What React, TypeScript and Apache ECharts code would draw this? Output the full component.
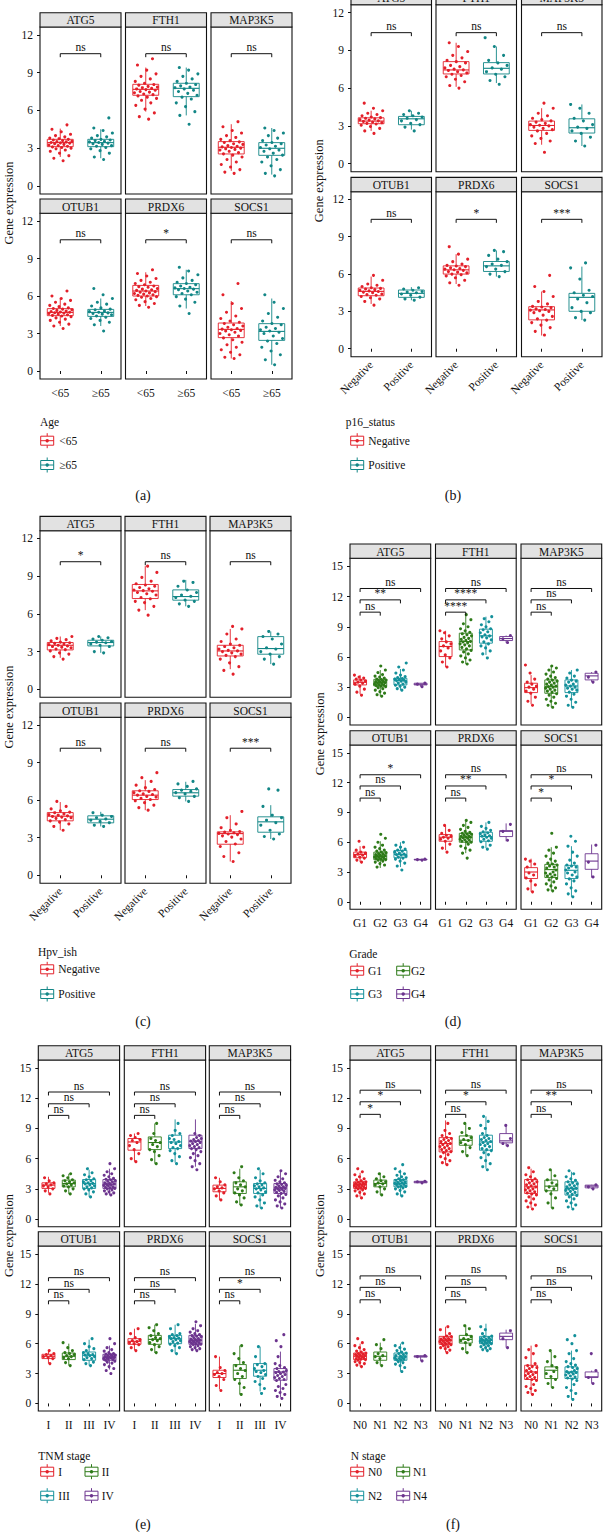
import React, { useEffect, useRef } from "react";
import * as echarts from "echarts";

const GENES = ["ATG5", "FTH1", "MAP3K5", "OTUB1", "PRDX6", "SOCS1"];

// ---------- (a) Age ----------
const A_GROUPS = ["<65", "≥65"];
const A_BOXES = [
  [[2.3, 3.12, 3.44, 3.7, 4.55], [2.2, 3.12, 3.44, 3.7, 4.5]],
  [[5.9, 7.2, 7.67, 8.07, 9.4], [5.6, 7.09, 7.75, 8.15, 9.4]],
  [[1.2, 2.54, 3.07, 3.52, 4.9], [0.9, 2.43, 2.99, 3.44, 4.6]],
  [[3.6, 4.43, 4.69, 4.99, 5.85], [3.6, 4.37, 4.69, 4.93, 5.8]],
  [[5.2, 6.0, 6.4, 6.85, 7.9], [5.0, 6.1, 6.59, 6.99, 8.1]],
  [[1.0, 2.67, 3.33, 3.84, 5.6], [0.5, 2.45, 3.17, 3.79, 5.8]],
];
const A_POINTS = [
  ["2.0 2.2 2.4 2.6 2.75 2.85 2.95 3.0 3.05 3.1 3.15 3.2 3.25 3.3 3.35 3.4 3.42 3.45 3.5 3.52 3.55 3.6 3.65 3.7 3.75 3.8 3.9 4.0 4.1 4.3 4.5 4.85",
   "2.1 2.3 2.6 2.8 2.95 3.05 3.15 3.2 3.3 3.35 3.4 3.45 3.5 3.55 3.6 3.65 3.7 3.8 3.9 4.0 4.2 4.4 4.6 5.4"],
  ["5.3 5.5 5.8 6.1 6.4 6.6 6.8 6.95 7.05 7.15 7.25 7.3 7.4 7.45 7.5 7.6 7.65 7.7 7.75 7.8 7.85 7.9 8.0 8.05 8.15 8.3 8.5 8.7 8.9 9.2 9.6 10.1",
   "4.9 5.6 5.9 6.3 6.6 6.9 7.05 7.2 7.35 7.5 7.6 7.7 7.8 7.85 7.95 8.05 8.15 8.3 8.5 8.7 8.9 9.2 9.4"],
  ["1.0 1.1 1.3 1.5 1.7 1.9 2.1 2.3 2.45 2.55 2.65 2.75 2.85 2.9 2.95 3.0 3.05 3.1 3.15 3.2 3.3 3.35 3.45 3.5 3.6 3.7 3.85 4.0 4.2 4.4 4.7 5.1",
   "0.8 1.0 1.3 1.6 1.9 2.1 2.3 2.45 2.6 2.75 2.85 2.95 3.05 3.15 3.25 3.35 3.45 3.6 3.8 4.0 4.2 4.4 4.6"],
  ["3.4 3.6 3.75 3.9 4.05 4.15 4.25 4.35 4.4 4.45 4.5 4.55 4.6 4.62 4.66 4.7 4.72 4.76 4.8 4.85 4.9 4.95 5.0 5.05 5.15 5.25 5.35 5.5 5.65 5.8 6.0 6.4",
   "3.2 3.7 3.9 4.05 4.2 4.3 4.4 4.5 4.55 4.6 4.65 4.7 4.75 4.8 4.9 4.95 5.05 5.2 5.35 5.5 5.8 6.1 6.6"],
  ["5.1 5.25 5.4 5.55 5.7 5.8 5.9 5.95 6.0 6.05 6.1 6.15 6.2 6.25 6.3 6.35 6.4 6.45 6.5 6.55 6.6 6.7 6.75 6.8 6.9 7.0 7.1 7.25 7.4 7.6 7.8 8.1",
   "4.6 5.2 5.5 5.75 5.95 6.1 6.2 6.3 6.4 6.5 6.55 6.6 6.65 6.7 6.8 6.9 7.0 7.1 7.25 7.45 7.7 8.0 8.3"],
  ["1.0 1.1 1.3 1.5 1.7 1.9 2.1 2.3 2.5 2.65 2.8 2.9 3.0 3.1 3.2 3.25 3.3 3.35 3.4 3.5 3.6 3.7 3.8 3.9 4.0 4.2 4.4 4.7 5.0 5.4 6.1 7.0",
   "0.5 0.9 1.3 1.6 1.9 2.2 2.4 2.6 2.8 3.0 3.1 3.2 3.3 3.4 3.5 3.7 3.8 4.0 4.3 4.6 5.0 5.5 6.1"],
];
const A_SIG = [["ns"], ["ns"], ["ns"], ["ns"], ["*"], ["ns"]];
const A_SIG_Y = [10.5];

// ---------- (b) p16_status ----------
const B_GROUPS = ["Negative", "Positive"];
const B_BOXES = [
  [[2.6, 3.17, 3.38, 3.64, 4.2], [2.7, 3.09, 3.56, 3.75, 4.2]],
  [[6.1, 7.12, 7.44, 8.1, 9.6], [6.4, 7.12, 7.57, 8.02, 9.3]],
  [[1.5, 2.64, 3.03, 3.38, 4.4], [1.4, 2.43, 2.85, 3.56, 4.7]],
  [[3.6, 4.26, 4.61, 4.88, 5.8], [3.9, 4.13, 4.45, 4.72, 4.95]],
  [[5.2, 6.0, 6.34, 6.66, 7.6], [5.8, 6.21, 6.66, 7.01, 7.9]],
  [[1.06, 2.32, 3.12, 3.38, 4.6], [2.3, 3.01, 4.13, 4.45, 6.6]],
];
const B_POINTS = [
  ["2.4 2.6 2.8 2.95 3.05 3.15 3.2 3.25 3.3 3.35 3.4 3.45 3.5 3.55 3.6 3.65 3.7 3.8 3.9 4.0 4.2 4.4 4.8", "2.6 2.9 3.1 3.2 3.4 3.5 3.6 3.7 3.8 3.9 4.0 4.2"],
  ["6.0 6.2 6.5 6.7 6.9 7.0 7.1 7.2 7.3 7.4 7.45 7.5 7.6 7.7 7.8 8.0 8.1 8.2 8.4 8.6 8.9 9.3 9.6", "6.3 6.6 6.9 7.1 7.3 7.5 7.6 7.8 8.0 8.2 8.6 9.3 10.0"],
  ["0.9 1.6 1.8 2.0 2.2 2.4 2.6 2.7 2.8 2.9 3.0 3.05 3.1 3.2 3.3 3.4 3.5 3.6 3.8 4.0 4.4 4.8", "1.4 1.8 2.1 2.4 2.6 2.8 2.9 3.1 3.4 3.6 4.0 4.4 4.7"],
  ["3.5 3.8 4.0 4.1 4.2 4.3 4.35 4.4 4.5 4.55 4.6 4.65 4.7 4.75 4.8 4.85 4.9 5.0 5.1 5.2 5.5 5.9", "3.9 4.0 4.15 4.3 4.4 4.5 4.55 4.6 4.7 4.8 4.9"],
  ["5.1 5.3 5.5 5.7 5.85 5.95 6.0 6.1 6.15 6.2 6.3 6.35 6.4 6.45 6.5 6.6 6.65 6.7 6.8 7.0 7.2 7.6 8.2", "5.8 6.0 6.2 6.4 6.6 6.7 6.8 7.0 7.2 7.5 7.8 7.9"],
  ["1.1 1.4 1.7 1.9 2.1 2.3 2.4 2.6 2.7 2.9 3.0 3.05 3.1 3.15 3.2 3.3 3.35 3.4 3.6 3.8 4.2 4.6 5.0 5.9", "2.3 2.5 2.9 3.0 3.3 3.7 4.0 4.2 4.3 4.5 4.7 5.6 6.5 6.9"],
];
const B_SIG = [["ns"], ["ns"], ["ns"], ["ns"], ["*"], ["***"]];
const B_SIG_Y = [10.4];

// ---------- (c) Hpv_ish ----------
const C_GROUPS = ["Negative", "Positive"];
const C_BOXES = [
  [[2.5, 3.13, 3.5, 3.72, 4.2], [2.9, 3.45, 3.72, 3.9, 4.2]],
  [[6.3, 7.22, 7.83, 8.34, 9.8], [6.6, 7.09, 7.38, 7.91, 8.7]],
  [[1.6, 2.65, 3.05, 3.5, 4.8], [2.0, 2.79, 3.24, 4.19, 4.6]],
  [[3.6, 4.35, 4.72, 5.01, 5.85], [3.9, 4.19, 4.48, 4.75, 5.07]],
  [[5.2, 6.05, 6.4, 6.75, 7.6], [5.9, 6.32, 6.59, 6.85, 7.47]],
  [[1.1, 2.48, 3.33, 3.47, 4.8], [2.9, 3.44, 4.27, 4.67, 5.6]],
];
const C_POINTS = [
  ["2.4 2.6 2.8 2.9 3.05 3.15 3.2 3.3 3.35 3.4 3.45 3.5 3.55 3.6 3.65 3.7 3.75 3.85 3.95 4.05 4.2", "2.9 3.0 3.4 3.5 3.6 3.7 3.75 3.8 3.9 4.0 4.1 4.2"],
  ["5.9 6.3 6.6 6.9 7.0 7.2 7.3 7.5 7.6 7.7 7.8 7.85 7.9 8.0 8.1 8.2 8.3 8.4 8.6 8.9 9.3 9.8", "6.6 6.8 7.0 7.1 7.3 7.4 7.5 7.7 7.9 8.2 8.5 8.6"],
  ["1.2 1.5 1.8 2.1 2.4 2.6 2.7 2.8 2.9 3.0 3.05 3.1 3.2 3.3 3.4 3.5 3.6 3.8 4.0 4.4 4.8 5.0", "2.0 2.4 2.6 2.8 3.0 3.2 3.3 3.6 4.0 4.2 4.4 4.6"],
  ["3.6 3.9 4.1 4.25 4.35 4.45 4.55 4.6 4.65 4.7 4.75 4.8 4.85 4.9 5.0 5.05 5.15 5.3 5.5 5.9", "3.9 4.0 4.2 4.3 4.4 4.5 4.6 4.7 4.8 5.0"],
  ["5.2 5.4 5.6 5.8 5.95 6.05 6.15 6.25 6.3 6.4 6.45 6.5 6.6 6.7 6.75 6.85 7.0 7.2 7.5 7.8 8.2", "5.9 6.2 6.3 6.5 6.6 6.7 6.8 6.9 7.1 7.3 7.5"],
  ["1.1 1.5 1.8 2.1 2.3 2.5 2.7 2.9 3.05 3.15 3.25 3.3 3.35 3.4 3.45 3.5 3.6 3.8 4.1 4.6 5.1", "2.9 3.1 3.3 3.6 4.0 4.2 4.4 4.6 4.8 5.5 6.8 6.9"],
];
const C_SIG = [["*"], ["ns"], ["ns"], ["ns"], ["ns"], ["***"]];
const C_SIG_Y = [10.15];

// ---------- (d) Grade ----------
const D_GROUPS = ["G1", "G2", "G3", "G4"];
const D_LEGEND = ["G1", "G2", "G3", "G4"];
const D_BOXES = [
  [[2.3, 3.22, 3.48, 3.72, 4.2], [2.1, 3.12, 3.48, 3.78, 4.7], [2.7, 3.22, 3.65, 3.88, 4.8], [3.05, 3.22, 3.29, 3.39, 3.4]],
  [[5.0, 6.04, 7.04, 7.53, 8.6], [5.3, 6.7, 7.53, 8.36, 10.2], [6.2, 7.37, 8.1, 8.76, 10.0], [7.4, 7.63, 7.83, 8.03, 8.13]],
  [[1.3, 2.46, 2.95, 3.39, 4.2], [1.0, 2.39, 3.05, 3.72, 5.1], [1.0, 2.46, 3.12, 3.72, 4.7], [3.5, 3.72, 4.12, 4.38, 4.5]],
  [[4.0, 4.44, 4.77, 5.0, 5.6], [3.4, 4.24, 4.57, 5.0, 6.1], [3.5, 4.44, 4.77, 5.17, 6.0], [4.2, 4.22, 4.25, 4.28, 4.3]],
  [[5.2, 6.1, 6.5, 6.77, 7.67], [4.9, 6.0, 6.5, 6.9, 8.1], [5.4, 6.1, 6.57, 7.0, 8.0], [6.1, 6.57, 7.1, 7.17, 7.9]],
  [[1.0, 2.34, 3.0, 3.44, 4.34], [1.1, 2.44, 3.24, 3.77, 5.5], [0.5, 2.34, 3.17, 3.67, 5.6], [2.44, 3.27, 4.1, 4.84, 5.77]],
];
const D_POINTS = [
  ["2.2 2.5 2.8 3.1 3.3 3.4 3.5 3.6 3.7 3.8 3.9 4.0 4.2",
   "2.1 2.25 2.4 2.55 2.7 2.85 2.95 3.05 3.1 3.15 3.2 3.25 3.3 3.35 3.4 3.45 3.5 3.55 3.6 3.65 3.7 3.75 3.8 3.9 4.0 4.1 4.25 4.45 4.7 5.1",
   "2.7 2.85 3.0 3.1 3.2 3.3 3.4 3.5 3.6 3.65 3.7 3.75 3.8 3.85 3.95 4.05 4.2 4.4 4.7 5.0 5.4", "3.05 3.3 3.4"],
  ["5.0 5.5 5.9 6.2 6.6 6.9 7.1 7.3 7.5 7.8 8.1 8.4 8.6",
   "5.3 5.5 5.7 5.9 6.1 6.3 6.5 6.65 6.8 6.95 7.1 7.2 7.3 7.4 7.5 7.55 7.65 7.75 7.85 7.95 8.1 8.2 8.3 8.45 8.6 8.8 9.0 9.3 9.7 10.2",
   "5.9 6.3 6.6 6.9 7.1 7.3 7.5 7.7 7.9 8.0 8.1 8.2 8.4 8.5 8.7 8.8 9.0 9.2 9.5 9.8 10.0", "7.43 7.8 8.13"],
  ["1.2 1.6 2.0 2.4 2.6 2.8 3.0 3.1 3.3 3.5 3.8 4.4 5.2",
   "1.0 1.2 1.4 1.6 1.8 2.0 2.2 2.35 2.5 2.6 2.7 2.8 2.9 3.0 3.05 3.1 3.2 3.3 3.4 3.5 3.6 3.7 3.8 3.95 4.1 4.3 4.5 4.7 4.9 5.1",
   "1.0 1.2 1.5 1.8 2.1 2.3 2.5 2.7 2.8 2.9 3.0 3.1 3.2 3.3 3.5 3.6 3.7 3.9 4.1 4.4 4.7", "3.5 4.0 4.5"],
  ["4.0 4.2 4.4 4.5 4.6 4.7 4.8 4.9 5.0 5.2 5.5 6.1",
   "3.3 3.5 3.7 3.85 4.0 4.1 4.2 4.25 4.3 4.35 4.4 4.45 4.5 4.55 4.6 4.65 4.7 4.75 4.8 4.85 4.95 5.0 5.1 5.2 5.35 5.5 5.7 6.0 6.4 6.8",
   "3.2 3.6 3.9 4.1 4.3 4.4 4.5 4.6 4.7 4.75 4.8 4.9 5.0 5.1 5.2 5.3 5.5 5.7 6.0", "4.2 4.25 4.3"],
  ["5.0 5.4 5.8 6.1 6.3 6.4 6.5 6.6 6.7 6.9 7.2 7.7",
   "4.4 4.9 5.2 5.4 5.6 5.8 5.9 6.0 6.05 6.1 6.2 6.25 6.3 6.4 6.45 6.5 6.55 6.6 6.65 6.7 6.8 6.85 6.9 7.0 7.1 7.3 7.5 7.7 8.0 8.2",
   "5.3 5.5 5.7 5.9 6.05 6.15 6.3 6.4 6.5 6.6 6.65 6.75 6.85 6.95 7.05 7.2 7.4 7.6 8.0", "6.2 7.1 7.8"],
  ["1.0 1.3 1.7 2.1 2.4 2.7 2.9 3.1 3.3 3.5 3.8 4.1 4.3",
   "1.1 1.2 1.4 1.6 1.8 2.0 2.2 2.35 2.5 2.6 2.7 2.8 2.9 3.0 3.1 3.2 3.3 3.4 3.5 3.6 3.7 3.8 3.9 4.1 4.3 4.6 4.9 5.2 5.5 6.9",
   "0.5 0.8 1.1 1.4 1.8 2.1 2.3 2.5 2.7 2.9 3.0 3.1 3.2 3.3 3.4 3.5 3.6 3.7 3.9 4.2 4.6 5.0 5.6 6.1 6.6", "2.5 4.0 5.7"],
];
const D_SIG = [["ns", "**", "ns"], ["****", "****", "ns"], ["ns", "ns", "ns"], ["ns", "ns", "*"], ["ns", "**", "ns"], ["*", "*", "ns"]];
const D_SIG_Y = [10.45, 11.67, 12.8];

// ---------- (e) TNM stage ----------
const E_GROUPS = ["I", "II", "III", "IV"];
const E_LEGEND = ["I", "II", "III", "IV"];
const E_BOXES = [
  [[2.6, 3.04, 3.37, 3.6, 4.2], [2.5, 3.2, 3.53, 3.87, 4.5], [2.2, 3.04, 3.53, 3.93, 4.9], [2.4, 3.04, 3.47, 3.93, 5.0]],
  [[5.7, 6.84, 7.66, 8.0, 8.5], [5.5, 6.9, 7.6, 8.16, 9.5], [5.6, 7.0, 7.66, 8.33, 9.9], [5.2, 7.0, 7.73, 8.33, 9.9]],
  [[1.9, 2.71, 3.04, 3.37, 4.1], [1.4, 2.54, 3.2, 3.7, 5.0], [1.1, 2.54, 3.04, 3.53, 4.9], [1.1, 2.54, 3.1, 3.53, 4.7]],
  [[4.0, 4.5, 4.73, 4.93, 5.3], [3.8, 4.4, 4.73, 5.06, 6.0], [3.8, 4.33, 4.83, 5.16, 6.4], [3.4, 4.33, 4.6, 4.93, 5.8]],
  [[5.33, 5.93, 6.23, 6.5, 7.5], [5.06, 5.93, 6.43, 6.83, 7.9], [5.0, 6.0, 6.5, 6.83, 7.9], [5.33, 5.93, 6.33, 6.83, 8.0]],
  [[1.4, 2.6, 3.0, 3.33, 4.7], [0.9, 2.5, 3.33, 3.9, 5.8], [1.2, 2.73, 3.33, 4.0, 5.7], [0.6, 2.33, 3.16, 3.5, 5.2]],
];
const E_POINTS = [
  ["2.5 2.8 3.0 3.2 3.3 3.4 3.5 3.6 3.8 4.1", "2.5 2.8 3.0 3.2 3.3 3.4 3.5 3.6 3.7 3.8 3.9 4.1 4.3 4.5",
   "2.2 2.5 2.7 2.9 3.0 3.1 3.2 3.3 3.4 3.5 3.55 3.6 3.7 3.8 3.9 4.0 4.2 4.4 4.6 5.0",
   "2.4 2.5 2.6 2.7 2.8 2.9 3.0 3.05 3.1 3.15 3.2 3.3 3.35 3.4 3.45 3.5 3.55 3.6 3.7 3.75 3.8 3.9 3.95 4.05 4.2 4.35 4.5 4.7 5.0 5.5"],
  ["5.7 6.0 6.5 6.9 7.3 7.6 7.8 7.9 8.1 8.3 8.5", "5.5 5.9 6.3 6.7 6.9 7.2 7.4 7.6 7.8 8.0 8.2 8.5 8.9 9.5",
   "5.5 5.8 6.2 6.5 6.8 7.0 7.1 7.3 7.5 7.6 7.7 7.9 8.0 8.2 8.3 8.5 8.8 9.1 9.5 9.9",
   "4.9 5.2 5.5 5.8 6.1 6.3 6.5 6.7 6.9 7.0 7.1 7.2 7.3 7.4 7.5 7.6 7.7 7.75 7.8 7.9 8.0 8.1 8.2 8.3 8.5 8.7 8.9 9.2 9.6 10.1"],
  ["1.9 2.3 2.6 2.8 3.0 3.1 3.2 3.4 3.7 4.1", "1.4 1.7 2.1 2.4 2.6 2.8 3.0 3.2 3.4 3.6 3.8 4.1 4.6 5.2",
   "1.1 1.3 1.6 1.9 2.2 2.4 2.6 2.7 2.9 3.0 3.1 3.2 3.3 3.4 3.5 3.6 3.8 4.1 4.5 5.0",
   "1.1 1.3 1.5 1.7 1.9 2.1 2.3 2.45 2.55 2.65 2.75 2.85 2.9 2.95 3.0 3.05 3.1 3.15 3.2 3.3 3.35 3.45 3.5 3.6 3.7 3.85 4.0 4.2 4.5 4.8"],
  ["4.0 4.3 4.5 4.6 4.7 4.8 4.9 5.0 5.3", "3.8 4.1 4.3 4.5 4.6 4.7 4.8 4.9 5.0 5.1 5.3 5.6 6.1",
   "3.8 4.0 4.15 4.3 4.4 4.5 4.6 4.7 4.8 4.85 4.9 5.0 5.1 5.2 5.3 5.5 5.7 6.0 6.5",
   "3.0 3.3 3.5 3.7 3.9 4.05 4.15 4.25 4.3 4.35 4.4 4.45 4.5 4.55 4.6 4.62 4.66 4.7 4.75 4.8 4.85 4.9 4.95 5.0 5.1 5.25 5.4 5.6 6.0 6.5"],
  ["5.3 5.6 5.9 6.0 6.1 6.2 6.3 6.4 6.6 7.0 7.5", "5.1 5.4 5.7 5.9 6.1 6.3 6.4 6.5 6.6 6.8 7.0 7.3 7.6 7.9",
   "5.0 5.3 5.6 5.8 5.95 6.05 6.2 6.3 6.4 6.5 6.55 6.6 6.7 6.8 6.9 7.0 7.2 7.5 7.9",
   "5.3 5.4 5.5 5.6 5.7 5.8 5.9 5.95 6.0 6.05 6.1 6.15 6.2 6.25 6.3 6.35 6.4 6.45 6.5 6.6 6.7 6.75 6.8 6.9 7.0 7.15 7.3 7.5 7.8 8.2"],
  ["1.3 1.8 2.4 2.7 2.9 3.0 3.1 3.3 3.6 4.7", "0.9 1.2 1.6 2.0 2.4 2.7 3.0 3.3 3.5 3.8 4.1 4.5 5.0 5.8",
   "1.0 1.2 1.5 1.9 2.2 2.5 2.7 2.9 3.1 3.2 3.3 3.4 3.5 3.7 3.9 4.0 4.3 4.7 5.2 5.7",
   "0.5 0.7 0.9 1.1 1.3 1.5 1.7 1.9 2.1 2.3 2.4 2.5 2.6 2.7 2.8 2.9 3.0 3.1 3.15 3.2 3.3 3.4 3.5 3.6 3.8 4.0 4.3 4.7 5.2 5.7 6.3 6.9"],
];
const E_SIG = [["ns", "ns", "ns"], ["ns", "ns", "ns"], ["ns", "ns", "ns"], ["ns", "ns", "ns"], ["ns", "ns", "ns"], ["ns", "*", "ns"]];
const E_SIG_Y = [10.3, 11.45, 12.62];

// ---------- (f) N stage ----------
const F_GROUPS = ["N0", "N1", "N2", "N3"];
const F_LEGEND = ["N0", "N1", "N2", "N4"];
const F_BOXES = [
  [[2.2, 3.04, 3.44, 3.7, 4.6], [2.4, 3.2, 3.53, 3.87, 4.6], [2.3, 3.2, 3.53, 3.93, 4.9], [3.6, 3.6, 3.68, 3.75, 3.75]],
  [[5.4, 6.67, 7.5, 8.09, 9.8], [6.34, 7.33, 7.83, 8.26, 9.5], [5.0, 6.84, 7.66, 8.33, 10.2], [7.24, 7.57, 7.77, 8.49, 9.42]],
  [[1.1, 2.54, 3.2, 3.93, 5.0], [1.1, 2.81, 3.27, 3.87, 4.9], [1.1, 2.38, 3.04, 3.7, 4.7], [3.0, 3.1, 3.27, 3.37, 3.4]],
  [[3.7, 4.4, 4.73, 5.06, 6.0], [3.83, 4.33, 4.73, 5.16, 6.1], [3.2, 4.33, 4.67, 5.06, 6.0], [4.27, 4.65, 4.73, 4.78, 4.8]],
  [[5.16, 5.93, 6.33, 6.73, 7.7], [5.06, 6.06, 6.43, 6.83, 7.8], [5.33, 6.0, 6.33, 6.73, 8.0], [5.6, 6.4, 6.73, 7.06, 7.4]],
  [[0.93, 2.4, 3.16, 3.83, 5.8], [1.6, 2.5, 3.33, 3.67, 5.2], [0.4, 2.5, 3.16, 3.67, 5.3], [2.0, 2.6, 2.67, 3.16, 3.3]],
];
const F_POINTS = [
  ["2.1 2.3 2.5 2.65 2.8 2.9 3.0 3.05 3.1 3.15 3.2 3.25 3.3 3.35 3.4 3.45 3.5 3.55 3.6 3.65 3.7 3.8 3.9 4.0 4.2 4.4 4.7 5.0",
   "2.4 2.7 3.0 3.2 3.4 3.5 3.6 3.7 3.8 4.0 4.2 4.5",
   "2.3 2.5 2.7 2.85 3.0 3.1 3.2 3.25 3.3 3.4 3.45 3.5 3.55 3.6 3.65 3.7 3.8 3.85 3.9 4.0 4.1 4.2 4.35 4.5 4.7 5.0 5.4", "3.6 3.7 3.75"],
  ["5.4 5.6 5.8 6.0 6.2 6.4 6.6 6.7 6.8 6.9 7.0 7.1 7.2 7.3 7.4 7.5 7.6 7.7 7.8 7.9 8.0 8.1 8.3 8.5 8.8 9.1 9.5 9.9",
   "6.3 6.7 7.1 7.4 7.6 7.8 7.9 8.1 8.3 8.6 9.0 9.5",
   "4.9 5.2 5.5 5.8 6.1 6.4 6.6 6.8 6.9 7.0 7.2 7.3 7.4 7.5 7.6 7.7 7.8 7.9 8.0 8.1 8.2 8.3 8.5 8.7 9.0 9.3 9.7 10.2", "7.3 7.5 8.0 9.3"],
  ["1.0 1.2 1.4 1.6 1.8 2.0 2.2 2.4 2.5 2.6 2.7 2.8 2.9 3.0 3.1 3.2 3.3 3.4 3.5 3.6 3.7 3.8 3.9 4.0 4.2 4.4 4.7 5.1",
   "1.1 1.6 2.1 2.5 2.8 3.0 3.2 3.4 3.6 3.9 4.3 4.9",
   "1.0 1.2 1.4 1.6 1.8 2.0 2.2 2.35 2.45 2.55 2.65 2.75 2.85 2.95 3.0 3.05 3.1 3.2 3.3 3.4 3.5 3.6 3.7 3.85 4.0 4.2 4.5 4.8", "3.0 3.2 3.4"],
  ["3.7 3.85 4.0 4.1 4.2 4.3 4.35 4.4 4.45 4.5 4.55 4.6 4.65 4.7 4.75 4.8 4.85 4.9 4.95 5.0 5.05 5.15 5.25 5.4 5.6 5.8 6.1 6.5",
   "3.8 4.1 4.3 4.5 4.7 4.8 5.0 5.2 5.5 5.9 6.4",
   "3.2 3.4 3.6 3.8 3.95 4.1 4.2 4.3 4.35 4.4 4.45 4.5 4.55 4.6 4.65 4.7 4.75 4.8 4.9 5.0 5.05 5.15 5.3 5.45 5.6 5.8 6.06", "4.27 4.7 4.8"],
  ["5.1 5.2 5.35 5.5 5.6 5.7 5.8 5.9 5.95 6.0 6.05 6.1 6.2 6.25 6.3 6.35 6.4 6.45 6.5 6.6 6.7 6.75 6.85 7.0 7.2 7.4 7.7 8.1",
   "5.1 5.5 5.9 6.1 6.3 6.4 6.5 6.7 6.9 7.2 7.5 7.8",
   "5.3 5.4 5.5 5.6 5.7 5.8 5.9 6.0 6.05 6.1 6.15 6.2 6.25 6.3 6.35 6.4 6.45 6.5 6.6 6.7 6.75 6.85 7.0 7.2 7.4 7.7 8.1", "5.6 6.5 7.3"],
  ["0.9 1.1 1.3 1.5 1.7 1.9 2.1 2.3 2.4 2.5 2.6 2.7 2.8 2.9 3.0 3.1 3.2 3.3 3.4 3.5 3.6 3.7 3.8 4.0 4.3 4.6 5.0 5.4 5.8",
   "1.6 2.0 2.4 2.7 3.0 3.2 3.4 3.6 3.8 4.2 4.7 5.3",
   "0.4 0.7 1.0 1.3 1.6 1.9 2.1 2.3 2.45 2.55 2.65 2.75 2.85 2.95 3.05 3.1 3.15 3.2 3.3 3.4 3.5 3.6 3.7 3.85 4.0 4.2 4.5 5.0 5.3 6.0 6.4 6.8", "2.0 2.6 3.3 5.0"],
];
const F_SIG = [["*", "*", "ns"], ["ns", "*", "ns"], ["ns", "**", "ns"], ["ns", "ns", "ns"], ["ns", "ns", "ns"], ["ns", "ns", "ns"]];
const F_SIG_Y = [10.4, 11.65, 12.8];

const TICKS_12 = [0, 3, 6, 9, 12];
const TICKS_15 = [0, 3, 6, 9, 12, 15];

// ---------- style ----------
const FONT = '"Liberation Serif", "Times New Roman", serif';
const RED = "#E3202A";
const TEAL2 = "#128686";
const GREEN = "#2E7A18";
const TEAL4 = "#13909A";
const PURPLE = "#6C348E";
const COLORS2 = [RED, TEAL2];
const COLORS4 = [RED, GREEN, TEAL4, PURPLE];
const BOX_W = 0.64;
const JITTER = 0.3;
const STRIP_H = 14.3;

const PANELS = [
  {
    tag: "(a)", tagX: 143, tagY: 495, legendTitle: "Age", legendLabels: A_GROUPS, groups: A_GROUPS,
    colors: COLORS2, boxes: A_BOXES, points: A_POINTS, sig: A_SIG, sigY: A_SIG_Y,
    ymin: -0.64, ymax: 12.62, ticks: TICKS_12, rotate: 0,
    colX: [40, 125.5, 211], colW: 81, rowTop: [27, 213.3], rowH: [167, 165.7], titleX: 8.5,
    legTitle: [40, 422], legItems: [[40.7, 440.7, 59.3], [40.7, 465, 59.3]],
  },
  {
    tag: "(b)", tagX: 453, tagY: 495, legendTitle: "p16_status", legendLabels: B_GROUPS, groups: B_GROUPS,
    colors: COLORS2, boxes: B_BOXES, points: B_POINTS, sig: B_SIG, sigY: B_SIG_Y,
    ymin: -0.64, ymax: 12.62, ticks: TICKS_12, rotate: 45,
    colX: [351, 436, 521.5], colW: 80.5, rowTop: [4.7, 191.7], rowH: [167, 165], titleX: 319.3,
    legTitle: [345.7, 422], legItems: [[350.7, 440.7, 368.3], [350.7, 465, 368.3]],
  },
  {
    tag: "(c)", tagX: 143, tagY: 1021, legendTitle: "Hpv_ish", legendLabels: C_GROUPS, groups: C_GROUPS,
    colors: COLORS2, boxes: C_BOXES, points: C_POINTS, sig: C_SIG, sigY: C_SIG_Y,
    ymin: -0.64, ymax: 12.62, ticks: TICKS_12, rotate: 45,
    colX: [40, 125, 210], colW: 81, rowTop: [530.7, 717.3], rowH: [166.6, 166], titleX: 8.5,
    legTitle: [38, 951.7], legItems: [[40.7, 969.3, 58.3], [40.7, 994, 58.3]],
  },
  {
    tag: "(d)", tagX: 453, tagY: 1021, legendTitle: "Grade", legendLabels: D_LEGEND, groups: D_GROUPS,
    colors: COLORS4, boxes: D_BOXES, points: D_POINTS, sig: D_SIG, sigY: D_SIG_Y,
    ymin: -0.76, ymax: 15.8, ticks: TICKS_15, rotate: 0,
    colX: [350, 435.5, 521], colW: 80.7, rowTop: [558.3, 745], rowH: [166.7, 164.3], titleX: 320,
    legTitle: [349.3, 954],
    legItems: [[350.7, 970.7, 368], [396.7, 970.7, 411], [350.7, 994, 368], [396.7, 994, 411]],
  },
  {
    tag: "(e)", tagX: 143, tagY: 1524, legendTitle: "TNM stage", legendLabels: E_LEGEND, groups: E_GROUPS,
    colors: COLORS4, boxes: E_BOXES, points: E_POINTS, sig: E_SIG, sigY: E_SIG_Y,
    ymin: -0.76, ymax: 15.8, ticks: TICKS_15, rotate: 0,
    colX: [38.3, 124.3, 209.3], colW: 81.3, rowTop: [1060, 1246], rowH: [166.7, 165], titleX: 8.5,
    legTitle: [38.3, 1456],
    legItems: [[40.7, 1471.7, 58.3], [85, 1471.7, 101.7], [40.7, 1495.7, 58.3], [85, 1495.7, 101.7]],
  },
  {
    tag: "(f)", tagX: 453, tagY: 1524, legendTitle: "N stage", legendLabels: F_LEGEND, groups: F_GROUPS,
    colors: COLORS4, boxes: F_BOXES, points: F_POINTS, sig: F_SIG, sigY: F_SIG_Y,
    ymin: -0.76, ymax: 15.8, ticks: TICKS_15, rotate: 0,
    colX: [350, 435.5, 521], colW: 80.7, rowTop: [1060, 1246], rowH: [166.7, 165], titleX: 320,
    legTitle: [350.7, 1456],
    legItems: [[350.7, 1471.7, 368], [396.7, 1471.7, 413], [350.7, 1495.7, 368], [396.7, 1495.7, 413]],
  },
];

function legendKey(cx: number, cy: number, color: string) {
  return {
    type: "group",
    children: [
      { type: "line", shape: { x1: cx, y1: cy - 7.5, x2: cx, y2: cy - 4.5 }, style: { stroke: color, lineWidth: 1 } },
      { type: "line", shape: { x1: cx, y1: cy + 4.5, x2: cx, y2: cy + 7.5 }, style: { stroke: color, lineWidth: 1 } },
      { type: "rect", shape: { x: cx - 6.5, y: cy - 4.5, width: 13, height: 9 }, style: { fill: "#fff", stroke: color, lineWidth: 1 } },
      { type: "line", shape: { x1: cx - 6.5, y1: cy, x2: cx + 6.5, y2: cy }, style: { stroke: color, lineWidth: 1 } },
      { type: "circle", shape: { cx, cy, r: 1.7 }, style: { fill: color } },
    ],
  };
}

function buildOption() {
  const grid: any[] = [];
  const xAxis: any[] = [];
  const yAxis: any[] = [];
  const series: any[] = [];
  const graphic: any[] = [];

  PANELS.forEach((p) => {
    GENES.forEach((gene, gi) => {
      const row = Math.floor(gi / 3);
      const col = gi % 3;
      const idx = grid.length;
      const left = p.colX[col];
      const top = p.rowTop[row];
      const h = p.rowH[row];
      grid.push({
        left, top, width: p.colW, height: h, show: true,
        borderColor: "#111", borderWidth: 1.1, backgroundColor: "#fff",
      });
      const bottomRow = row === 1;
      xAxis.push({
        gridIndex: idx, type: "category", data: p.groups, boundaryGap: true,
        axisLine: { show: false },
        axisTick: { show: bottomRow, alignWithLabel: true, length: 3, interval: 0, lineStyle: { color: "#111", width: 1 } },
        axisLabel: {
          show: bottomRow, interval: 0, rotate: p.rotate, margin: p.rotate ? 6 : 8,
          fontFamily: FONT, fontSize: 11.5, color: "#111",
        },
        splitLine: { show: false },
      });
      yAxis.push({
        gridIndex: idx, type: "value", min: p.ymin, max: p.ymax,
        axisLine: { show: false },
        axisTick: { show: col === 0, length: 3, customValues: p.ticks, lineStyle: { color: "#111", width: 1 } },
        axisLabel: { show: col === 0, customValues: p.ticks, margin: 7, fontFamily: FONT, fontSize: 11.5, color: "#111" },
        splitLine: { show: false },
      });

      // jittered points
      const ptsData: number[][] = [];
      p.points[gi].forEach((str: string, g: number) => {
        str.trim().split(/\s+/).map(Number).forEach((v, k) => {
          const j = ((((k + 1) * 0.6180339887) % 1) - 0.5) * 2 * JITTER;
          ptsData.push([g, v, j]);
        });
      });
      series.push({
        type: "custom", xAxisIndex: idx, yAxisIndex: idx, data: ptsData, silent: true, z: 2,
        renderItem: (params: any, api: any) => {
          const d = ptsData[params.dataIndex];
          const c = api.coord([d[0], d[1]]);
          const bw = api.size([1, 0])[0];
          return { type: "circle", shape: { cx: c[0] + d[2] * bw, cy: c[1], r: 1.55 }, style: { fill: p.colors[d[0]] } };
        },
      });

      // boxes
      const boxData = p.boxes[gi].map((b: number[], g: number) => [g, ...b]);
      series.push({
        type: "custom", xAxisIndex: idx, yAxisIndex: idx, data: boxData, silent: true, z: 3,
        renderItem: (params: any, api: any) => {
          const d = boxData[params.dataIndex];
          const g = d[0];
          const lo = api.coord([g, d[1]]);
          const q1 = api.coord([g, d[2]]);
          const md = api.coord([g, d[3]]);
          const q3 = api.coord([g, d[4]]);
          const hi = api.coord([g, d[5]]);
          const bw = api.size([1, 0])[0] * BOX_W;
          const x = md[0];
          const col = p.colors[g];
          const ls = { stroke: col, lineWidth: 0.9, fill: "none" };
          return {
            type: "group",
            children: [
              { type: "line", shape: { x1: x, y1: hi[1], x2: x, y2: q3[1] }, style: ls },
              { type: "line", shape: { x1: x, y1: q1[1], x2: x, y2: lo[1] }, style: ls },
              { type: "rect", shape: { x: x - bw / 2, y: q3[1], width: bw, height: q1[1] - q3[1] }, style: ls },
              { type: "line", shape: { x1: x - bw / 2, y1: md[1], x2: x + bw / 2, y2: md[1] }, style: { stroke: col, lineWidth: 1.1 } },
            ],
          };
        },
      });

      // significance brackets
      const sigLabels: string[] = p.sig[gi];
      const sigData = sigLabels.map((_, k) => [0, k + 1, p.sigY[k]]);
      series.push({
        type: "custom", xAxisIndex: idx, yAxisIndex: idx, data: sigData, silent: true, z: 4,
        renderItem: (params: any, api: any) => {
          const d = sigData[params.dataIndex];
          const a = api.coord([d[0], d[2]]);
          const b = api.coord([d[1], d[2]]);
          return {
            type: "group",
            children: [
              {
                type: "polyline",
                shape: { points: [[a[0], a[1] + 3.5], [a[0], a[1]], [b[0], b[1]], [b[0], b[1] + 3.5]] },
                style: { stroke: "#111", lineWidth: 1, fill: "none" },
              },
              {
                type: "text",
                style: {
                  text: sigLabels[params.dataIndex], x: (a[0] + b[0]) / 2, y: a[1] - 0.5,
                  textAlign: "center", textVerticalAlign: "bottom",
                  fontFamily: FONT, fontSize: 11.5, fill: "#111",
                },
              },
            ],
          };
        },
      });

      // facet strip
      graphic.push({
        type: "rect", shape: { x: left, y: top - STRIP_H, width: p.colW, height: STRIP_H },
        style: { fill: "#E2E2E2", stroke: "#111", lineWidth: 1.1 }, silent: true,
      });
      graphic.push({
        type: "text", x: left + p.colW / 2, y: top - STRIP_H / 2 + 0.5, silent: true,
        style: { text: gene, textAlign: "center", textVerticalAlign: "middle", font: `11.5px ${FONT}`, fill: "#111" },
      });
    });

    // y axis title
    const yc = (p.rowTop[0] + p.rowTop[1] + p.rowH[1]) / 2;
    graphic.push({
      type: "text", x: p.titleX, y: yc, rotation: Math.PI / 2, silent: true,
      style: { text: "Gene expression", textAlign: "center", textVerticalAlign: "middle", font: `12.5px ${FONT}`, fill: "#111" },
    });

    // legend
    graphic.push({
      type: "text", x: p.legTitle[0], y: p.legTitle[1], silent: true,
      style: { text: p.legendTitle, textAlign: "left", textVerticalAlign: "middle", font: `11.5px ${FONT}`, fill: "#111" },
    });
    p.legItems.forEach((it: number[], i: number) => {
      graphic.push(legendKey(it[0] + 6.5, it[1], p.colors[i]));
      graphic.push({
        type: "text", x: it[2], y: it[1], silent: true,
        style: { text: p.legendLabels[i], textAlign: "left", textVerticalAlign: "middle", font: `11.5px ${FONT}`, fill: "#111" },
      });
    });

    // panel tag
    graphic.push({
      type: "text", x: p.tagX, y: p.tagY, silent: true,
      style: { text: p.tag, textAlign: "center", textVerticalAlign: "middle", font: `14px ${FONT}`, fill: "#111" },
    });
  });

  return { animation: false, backgroundColor: "#fff", grid, xAxis, yAxis, series, graphic };
}

export default function App() {
  const ref = useRef<HTMLDivElement>(null);
  useEffect(() => {
    const chart = echarts.init(ref.current as HTMLDivElement, null, { renderer: "svg" });
    chart.setOption(buildOption() as any);
    return () => chart.dispose();
  }, []);
  return (
    <div
      ref={ref}
      style={{ position: "absolute", left: 0, top: 0, width: 603, height: 1532, background: "#fff" }}
    />
  );
}
